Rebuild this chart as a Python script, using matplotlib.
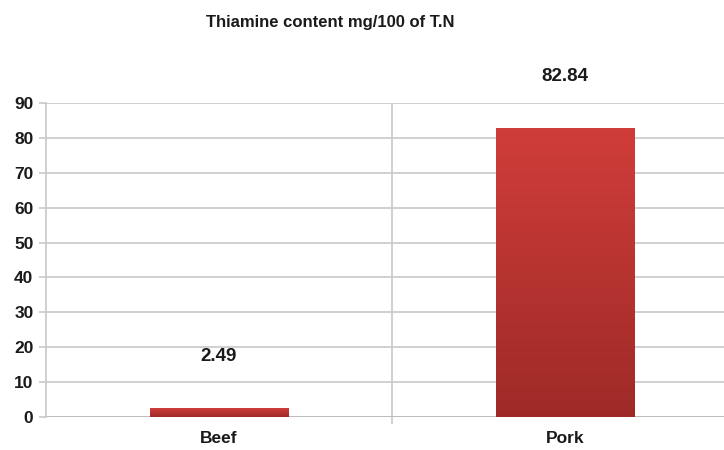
import numpy as np
import matplotlib.pyplot as plt
from matplotlib.colors import LinearSegmentedColormap

# Data
categories = ["Beef", "Pork"]
values = [2.49, 82.84]
labels = ["2.49", "82.84"]
title = "Thiamine content mg/100 of T.N"

plt.rcParams['font.family'] = ['Liberation Sans', 'DejaVu Sans']

fig = plt.figure(figsize=(7.24, 4.5), dpi=100)
ax = fig.add_axes([46 / 724, 1 - 417 / 450, 678 / 724, (417 - 103) / 450])

x = np.arange(len(categories))
bars = ax.bar(x, values, width=0.4, color="#c03532", zorder=3)

# vertical gradient inside each bar
cmap = LinearSegmentedColormap.from_list("red_grad", ["#9e2a27", "#d03d3a"])
grad = np.linspace(0, 1, 256).reshape(-1, 1)
for b in bars:
    x0, y0 = b.get_x(), b.get_y()
    w, h = b.get_width(), b.get_height()
    im = ax.imshow(grad, extent=[x0, x0 + w, y0, y0 + h], origin="lower",
                   cmap=cmap, aspect="auto", zorder=4)
    im.set_clip_path(b)
    b.set_facecolor("none")

# value labels, fixed offset above bars
for xi, v, lab in zip(x, values, labels):
    ax.annotate(lab, (xi, v), xytext=(0, 37), textcoords="offset points",
                ha="center", va="center", fontsize=13.5, fontweight="bold",
                color="#1a1a1a")

ax.set_xlim(-0.5, 1.46)
ax.set_ylim(0, 90)
ax.set_yticks(np.arange(0, 91, 10))
ax.set_xticks(x)
ax.set_xticklabels(categories)
ax.set_xticks([0.5], minor=True)

ax.grid(axis="y", color="#c8c8c8", linewidth=1.2, zorder=0)
ax.grid(axis="x", which="minor", color="#c8c8c8", linewidth=1.2, zorder=0)
ax.grid(axis="x", which="major", visible=False)

for s in ["top", "right", "bottom"]:
    ax.spines[s].set_visible(False)
ax.spines["left"].set_color("#c8c8c8")
ax.spines["left"].set_linewidth(1.2)
ax.axhline(0, color="#bdbdbd", linewidth=1.3, zorder=2)

ax.tick_params(axis="y", length=5, color="#c8c8c8", width=1.2, pad=4,
               labelsize=12.5)
ax.tick_params(axis="x", which="major", length=0, pad=10, labelsize=12.5)
ax.tick_params(axis="x", which="minor", length=5, color="#c8c8c8", width=1.2)
for t in ax.get_xticklabels() + ax.get_yticklabels():
    t.set_fontweight("bold")
    t.set_color("#1a1a1a")

fig.text(330 / 724, 1 - 22 / 450, title, ha="center", va="center",
         fontsize=12, fontweight="bold", color="#1a1a1a")

fig.savefig("out.png", dpi=100)
